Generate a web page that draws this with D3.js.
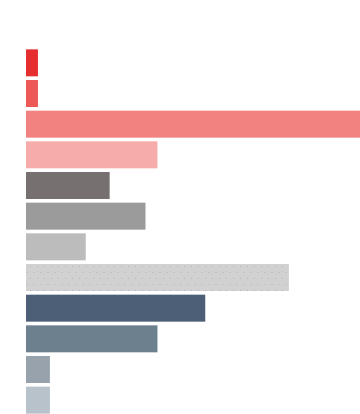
<!DOCTYPE html>
<html>
<head>
<meta charset="utf-8">
<script src="https://cdn.jsdelivr.net/npm/d3@7"></script>
<style>
html,body{margin:0;padding:0;background:#fff;overflow:hidden;}
svg{display:block;}
</style>
</head>
<body>
<svg id="chart" width="360" height="414"></svg>
<script>
const categories = ["A1","A2","A3","A4","B1","B2","B3","B4","C1","C2","C3","C4"];
const values = [1, 1, 28, 11, 7, 10, 5, 22, 15, 11, 2, 2];
const colors = ["#e62e2f","#ec5957","#f18280","#f5acab","#767170","#9b9b9b","#bcbcbc","#d1d1d1","#4d5f76","#6d808e","#97a2ad","#b7c2cb"];
const patterned = [false,false,false,false,false,false,false,true,false,false,false,false];

const svg = d3.select("#chart");
const defs = svg.append("defs");
const pat = defs.append("pattern")
  .attr("id","dots").attr("patternUnits","userSpaceOnUse")
  .attr("width",7).attr("height",12);
pat.append("rect").attr("width",7).attr("height",12).attr("fill","#d1d1d1");
pat.append("rect").attr("x",2).attr("y",2).attr("width",1).attr("height",1).attr("fill","#b4b4b4");
pat.append("rect").attr("x",5.5).attr("y",8).attr("width",1).attr("height",1).attr("fill","#b4b4b4");

const x = d3.scaleLinear().domain([0, 1]).range([26, 37.95]);
const y = d3.scaleBand().domain(categories).range([47.5, 415.5])
  .paddingInner(0.12).paddingOuter(0.06);

svg.append("g").selectAll("rect")
  .data(categories)
  .join("rect")
  .attr("x", x(0))
  .attr("y", d => y(d))
  .attr("width", (d,i) => x(values[i]) - x(0))
  .attr("height", y.bandwidth())
  .attr("fill", (d,i) => patterned[i] ? "url(#dots)" : colors[i]);
</script>
</body>
</html>
